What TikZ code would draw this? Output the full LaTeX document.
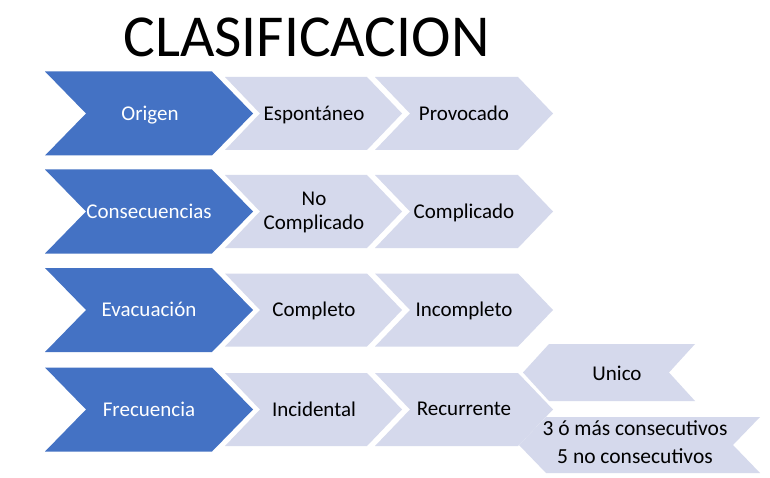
\documentclass[tikz,border=0pt]{standalone}
\usepackage{fontspec}
\setmainfont{Carlito}
\definecolor{darkb}{HTML}{4472C4}
\definecolor{lightb}{HTML}{D5D9EC}
\tikzset{
  mlbl/.style={font=\fontsize{21}{24}\selectfont, text=black, align=center, inner sep=0pt},
  lbl/.style={mlbl, text height=13.5pt, text depth=0pt},
  dlbl/.style={lbl, text=white},
  ttl/.style={font=\fontsize{59.5}{64}\selectfont, text=black, inner sep=0pt, text height=38.3pt, text depth=0pt},
  darkfill/.style={fill=darkb},
  lightfill/.style={fill=lightb},
}
% right-pointing chevron: x1, x2 (tip), ytop, ybot, depth, style
\newcommand\rchev[6]{%
  \fill[#6] (#1,#3) -- ({#2-#5},#3) -- (#2,{(#3+#4)/2}) -- ({#2-#5},#4) -- (#1,#4) -- ({#1+#5},{(#3+#4)/2}) -- cycle;}
% left-pointing chevron: x1 (tip), x2, ytop, ybot, depth, style
\newcommand\lchev[6]{%
  \fill[#6] ({#1+#5},#3) -- (#2,#3) -- ({#2-#5},{(#3+#4)/2}) -- (#2,#4) -- ({#1+#5},#4) -- (#1,{(#3+#4)/2}) -- cycle;}
\begin{document}
\begin{tikzpicture}[x=1pt,y=-1pt]
\useasboundingbox[fill=white] (0,0) rectangle (770,478);
% title
\node[ttl] (title) at (306.5,37) {CLASIFICACION};
% row 1
\rchev{45}{253}{71.5}{155.5}{41}{darkfill}
\rchev{225}{402}{77}{150}{35}{lightfill}
\rchev{375}{553}{77}{150}{35}{lightfill}
\node[dlbl] (origen) at (150,113.5) {Origen};
\node[lbl] (espontaneo) at (314,113.5) {Espontáneo};
\node[lbl] (provocado) at (464,113.5) {Provocado};
% row 2
\rchev{45}{253}{169.5}{253.5}{41}{darkfill}
\rchev{225}{402}{175}{248}{35}{lightfill}
\rchev{375}{553}{175}{248}{35}{lightfill}
\node[dlbl] (consec) at (149,211.5) {Consecuencias};
\node[mlbl] (nocompl) at (314,212) {No\\Complicado};
\node[lbl] (compl) at (464,211.5) {Complicado};
% row 3
\rchev{45}{253}{268}{352}{41}{darkfill}
\rchev{225}{402}{273.5}{346.5}{35}{lightfill}
\rchev{375}{553}{273.5}{346.5}{35}{lightfill}
\node[dlbl] (evac) at (149,310) {Evacuación};
\node[lbl] (completo) at (314,310) {Completo};
\node[lbl] (incompleto) at (464,310) {Incompleto};
% row 4
\rchev{45}{253}{367.5}{451.5}{41}{darkfill}
\rchev{225}{402}{373}{446}{35}{lightfill}
\rchev{375}{553}{373}{446}{35}{lightfill}
\node[dlbl] (frec) at (149,409.5) {Frecuencia};
\node[lbl] (incidental) at (314,410) {Incidental};
\node[lbl] (recurrente) at (464,408.5) {Recurrente};
% branches
\lchev{523}{695}{344}{401}{26}{lightfill}
\lchev{519}{760}{417}{473}{27}{lightfill}
\node[lbl] (unico) at (617,374) {Unico};
\node[mlbl, font=\fontsize{21.5}{27.5}\selectfont] (consecutivos) at (635,442) {3 ó más consecutivos\\5 no consecutivos};
\end{tikzpicture}
\end{document}
